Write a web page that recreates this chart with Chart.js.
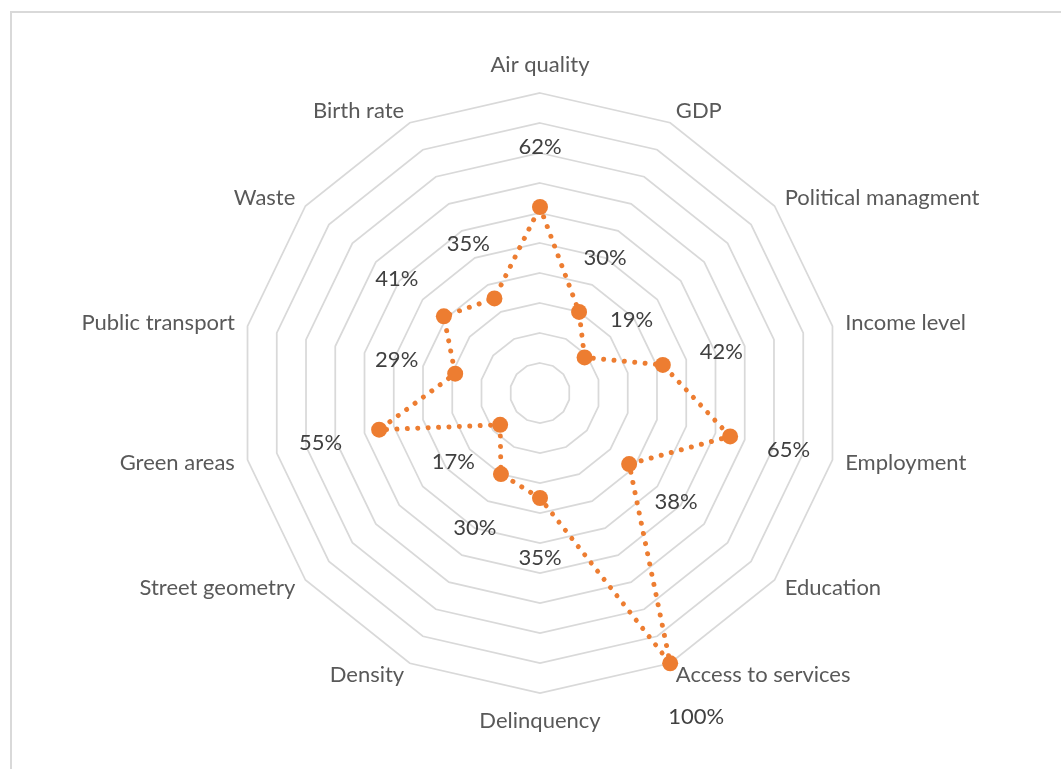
<!DOCTYPE html>
<html>
<head>
<meta charset="utf-8">
<title>City indicators radar</title>
<script src="https://cdn.jsdelivr.net/npm/chart.js@4/dist/chart.umd.min.js"></script>
<style>
  html, body { margin: 0; padding: 0; background: #fff; }
  canvas { display: block; }
</style>
</head>
<body>
<canvas id="radar-chart" width="1061" height="769"></canvas>
<script>
// Indicators, clockwise from the top
const categories = [
  "Air quality", "GDP", "Political managment", "Income level", "Employment",
  "Education", "Access to services", "Delinquency", "Density", "Street geometry",
  "Green areas", "Public transport", "Waste", "Birth rate"
];
// Score per indicator, in percent
const scores = [62, 30, 19, 42, 65, 38, 100, 35, 30, 17, 55, 29, 41, 35];
// Ring values of the radial axis
const ringTicks = [0, 10, 20, 30, 40, 50, 60, 70, 80, 90, 100];

const FONT = "Lato, 'Open Sans', sans-serif";

// white page with the thin frame round the chart
const framePlugin = {
  id: "frame",
  beforeDraw(chart) {
    const c = chart.ctx;
    c.save();
    c.fillStyle = "#fff";
    c.fillRect(0, 0, chart.width, chart.height);
    c.strokeStyle = "#D9D9D9";
    c.lineWidth = 2;
    c.strokeRect(11, 12, chart.width + 20, chart.height + 20);
    c.restore();
  }
};

// category names round the outside and the value next to each point
const labelPlugin = {
  id: "radarLabels",
  afterDatasetsDraw(chart) {
    const scale = chart.scales.r;
    const c = chart.ctx;
    const n = categories.length;
    c.save();
    c.font = "22px " + FONT;
    c.textBaseline = "middle";

    categories.forEach((name, i) => {
      const deg = Math.round(i * 360 / n);
      const vertical = deg === 0 || deg === 180;
      const pos = scale.getPointPosition(i, scale.drawingArea + (vertical ? 28 : 13));
      c.fillStyle = "#595959";
      c.textAlign = vertical ? "center" : (deg < 180 ? "left" : "right");
      c.fillText(name, pos.x, pos.y);
    });

    c.textAlign = "center";
    c.fillStyle = "#404040";
    scores.forEach((v, i) => {
      const pos = scale.getPointPosition(i, scale.getDistanceFromCenterForValue(v) + 60);
      c.fillText(v + "%", pos.x, pos.y);
    });
    c.restore();
  }
};

new Chart(document.getElementById("radar-chart").getContext("2d"), {
  type: "radar",
  data: {
    labels: categories,
    datasets: [{
      label: "Score",
      data: scores,
      fill: false,
      borderColor: "#ED7D31",
      borderWidth: 5,
      borderDash: [0.01, 10.4],
      borderCapStyle: "round",
      pointRadius: 8,
      pointBorderWidth: 0,
      pointBackgroundColor: "#ED7D31",
      tension: 0
    }]
  },
  options: {
    responsive: false,
    animation: false,
    events: [],
    layout: {
      padding: { left: 240, right: 221, top: 93, bottom: 76 }
    },
    plugins: {
      legend: { display: false },
      tooltip: { enabled: false }
    },
    scales: {
      r: {
        min: ringTicks[0],
        max: ringTicks[ringTicks.length - 1],
        afterBuildTicks(axis) {
          axis.ticks = ringTicks.map(v => ({ value: v }));
        },
        ticks: { display: false },
        grid: { color: "#D9D9D9", lineWidth: 1.75 },
        angleLines: { display: false },
        pointLabels: { display: false }
      }
    }
  },
  plugins: [framePlugin, labelPlugin]
});
</script>
</body>
</html>
